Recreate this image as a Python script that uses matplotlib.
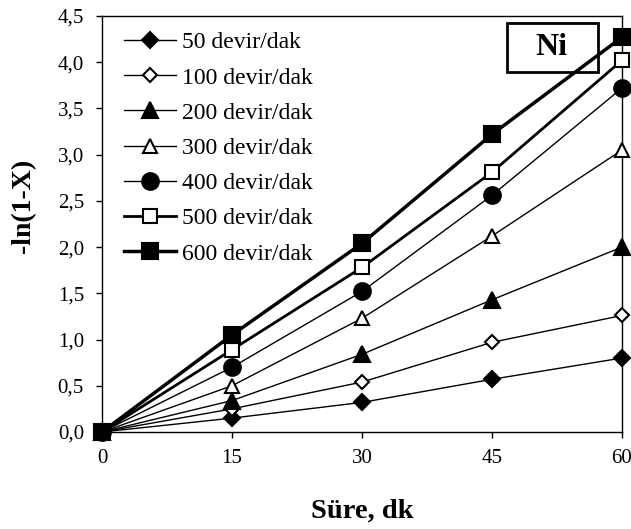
import numpy as np
import matplotlib
matplotlib.use("Agg")
import matplotlib.pyplot as plt
from matplotlib.patches import Rectangle
from matplotlib.ticker import FuncFormatter

plt.rcParams['font.family'] = ['Liberation Serif', 'DejaVu Serif']

t = [0, 15, 30, 45, 60]
labels = ["50 devir/dak", "100 devir/dak", "200 devir/dak", "300 devir/dak",
          "400 devir/dak", "500 devir/dak", "600 devir/dak"]
y50 = [0, 0.15, 0.32, 0.57, 0.80]
y100 = [0, 0.25, 0.54, 0.97, 1.26]
y200 = [0, 0.34, 0.84, 1.43, 2.00]
y300 = [0, 0.50, 1.23, 2.12, 3.05]
y400 = [0, 0.70, 1.52, 2.56, 3.72]
y500 = [0, 0.89, 1.78, 2.81, 4.02]
y600 = [0, 1.05, 2.04, 3.22, 4.27]
series = [y50, y100, y200, y300, y400, y500, y600]

markers = ['D', 'D', '^', '^', 'o', 's', 's']
filled = [True, False, True, False, True, False, True]
sizes = [8.5, 7.5, 11.5, 10.5, 12, 9.5, 12]
lws = [1, 1, 1, 1, 1, 2, 2.5]

fig = plt.figure(figsize=(6.31, 5.29), dpi=100)
ax = fig.add_axes([0.1617, 0.1834, 0.8240, 0.7864])

for ys, lab, m, f, ms, lw in zip(series, labels, markers, filled, sizes, lws):
    ax.plot(t, ys, color='black', lw=lw, marker=m, ms=ms,
            mfc='black' if f else 'white', mec='black', mew=1.5,
            label=lab, clip_on=False, zorder=3)

ax.set_xlim(0, 60)
ax.set_ylim(0, 4.5)
ax.set_xticks(t)
ax.set_yticks(np.arange(0, 4.51, 0.5))
ax.yaxis.set_major_formatter(FuncFormatter(lambda v, p: f"{v:.1f}".replace('.', ',')))
ax.tick_params(direction='out', labelsize=15, length=4.5, width=1, pad=8.5)
ax.tick_params(axis='x', pad=8)
for s in ax.spines.values():
    s.set_linewidth(1)

ax.set_xlabel("Süre, dk", fontsize=20.5, fontweight='bold', labelpad=22)
ax.set_ylabel("-ln(1-X)", fontsize=20, fontweight='bold')
ax.yaxis.set_label_coords(-0.127, 0.543)

ax.legend(loc='upper left', bbox_to_anchor=(0.042, 0.962), frameon=False,
          fontsize=17, labelspacing=0.58, handlelength=2.2, handletextpad=0.25,
          borderpad=0, borderaxespad=0)

ax.add_patch(Rectangle((0.778, 0.866), 0.175, 0.118, transform=ax.transAxes,
                       fc='white', ec='black', lw=2, zorder=2))
ax.text(0.865, 0.925, "Ni", transform=ax.transAxes, fontsize=23, fontweight='bold',
        ha='center', va='center', zorder=2.5)

fig.savefig("out.png", dpi=100)
